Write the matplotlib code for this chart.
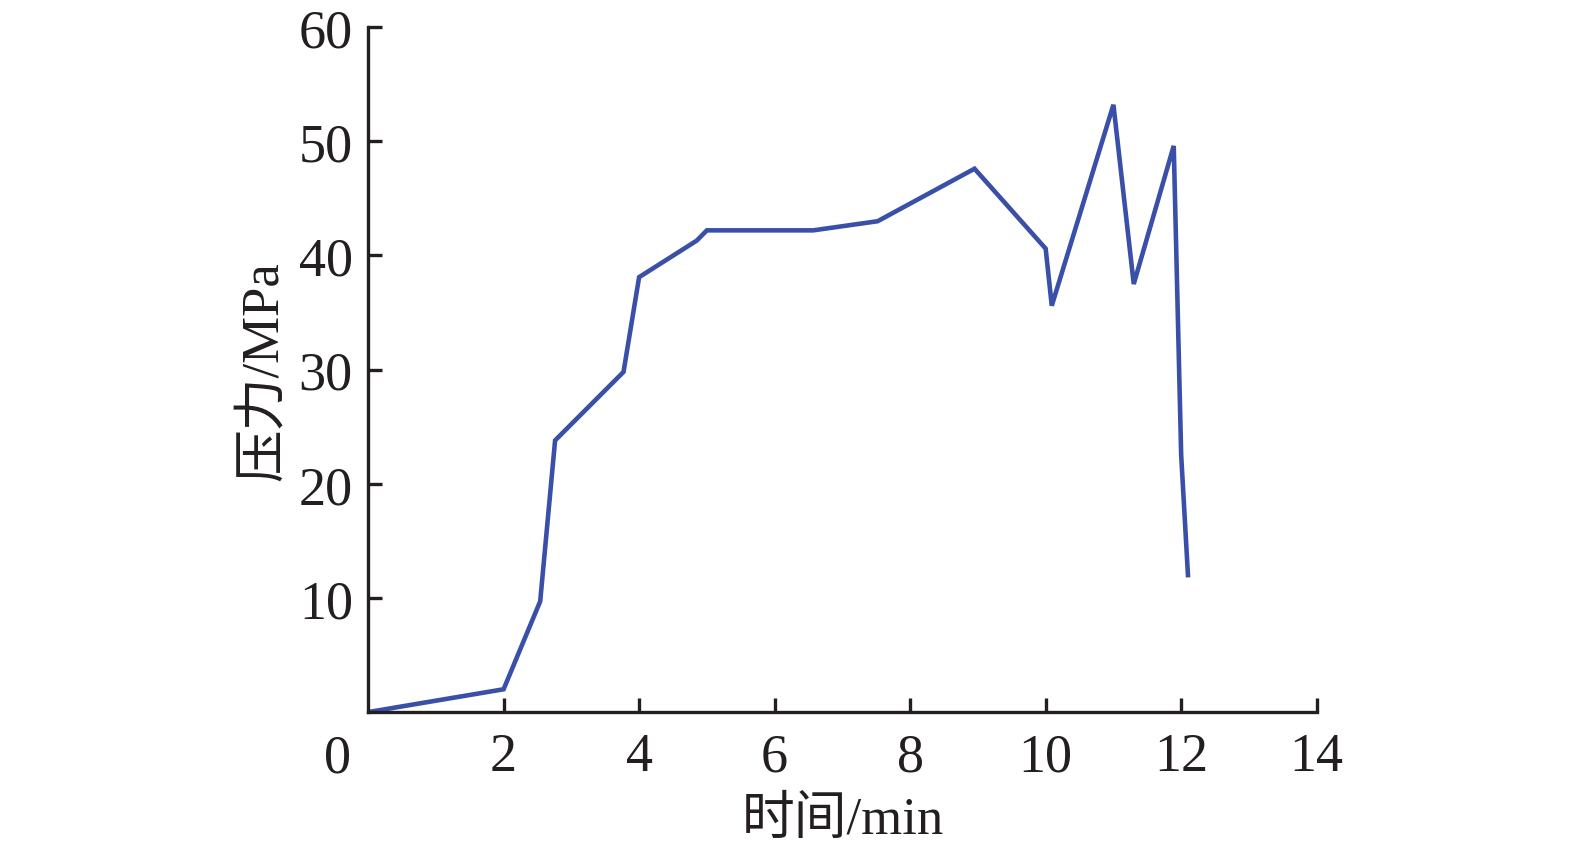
import matplotlib
matplotlib.use("Agg")
import matplotlib.pyplot as plt

time_min = [0, 2.0, 2.54, 2.76, 3.77, 4.0, 4.85, 5.0, 6.57, 7.52, 8.95, 10.0, 10.09, 11.0, 11.3, 11.89, 12.0, 12.1]
pressure = [0, 2.0, 9.7, 23.8, 29.8, 38.1, 41.3, 42.2, 42.2, 43.0, 47.6, 40.6, 35.6, 53.2, 37.5, 49.6, 22.5, 12.0]
xticks = [2, 4, 6, 8, 10, 12, 14]
yticks = [10, 20, 30, 40, 50, 60]

plt.rcParams['font.family'] = ['Liberation Serif', 'Noto Sans CJK SC']

fig = plt.figure(figsize=(15.75, 8.53), dpi=100)
ax = fig.add_axes([0.2337, 0.164, 0.836 - 0.2337, 0.967 - 0.164])
ax.plot(time_min, pressure, color='#3a50a8', lw=3.3, solid_joinstyle='miter')
ax.set_xlim(0, 14)
ax.set_ylim(0, 60)
ax.set_xticks(xticks)
ax.set_yticks(yticks)
for s in ['top', 'right']:
    ax.spines[s].set_visible(False)
for s in ['left', 'bottom']:
    ax.spines[s].set_linewidth(2.4)
    ax.spines[s].set_color('#231f20')
ax.tick_params(direction='in', length=10, width=2.4, color='#231f20', labelsize=39,
               labelcolor='#231f20')
ax.tick_params(axis='x', pad=14)
ax.tick_params(axis='y', pad=11)
ax.annotate('0', xy=(0, 0), xycoords=('data', 'axes fraction'), xytext=(-31, -21),
            textcoords='offset pixels', ha='center', va='top', fontsize=39, color='#231f20')
ax.set_xlabel('时间/min', fontsize=38, color='#231f20', labelpad=10)
ax.set_ylabel('压力/MPa', fontsize=38, color='#231f20', labelpad=8)
fig.savefig('out.png', dpi=100)
